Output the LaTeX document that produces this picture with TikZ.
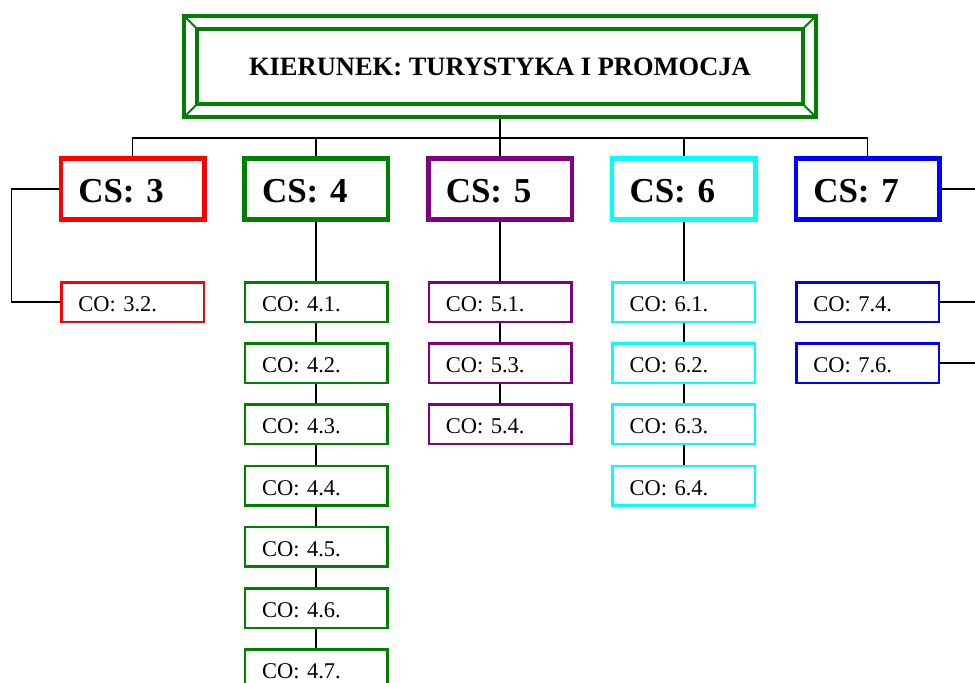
\documentclass[tikz,border=0pt]{standalone}
\usepackage{fontspec}
\setmainfont{Liberation Serif}
\usepackage{tikz}
\usetikzlibrary{trees}

\definecolor{cogreen}{RGB}{0,128,0}
\definecolor{copurple}{RGB}{128,0,128}
\definecolor{cocyan}{RGB}{0,255,255}

\begin{document}
\begin{tikzpicture}[
  x=1pt, y=1pt,
  line width=1.7pt,
  title/.style={draw=cogreen, double, double distance=9pt, line width=4pt,
    outer sep=8.5pt, minimum width=619pt, minimum height=88.5pt,
    font=\bfseries\fontsize{26.5}{30}\selectfont},
  cs/.style={rectangle, draw=#1, line width=4.5pt, inner xsep=17.5pt,
    text width=108.5pt, text height=27pt, text depth=0pt, minimum height=61pt,
    font=\bfseries\fontsize{35}{40}\selectfont}, % big boxes
  co/.style={rectangle, draw=#1, line width=2.5pt, inner xsep=17pt,
    text width=108.5pt, text height=19pt, text depth=0pt, minimum height=39.5pt,
    font=\fontsize{22.5}{26}\selectfont},
  level 1/.style={sibling distance=183.75pt, level distance=122.5pt,
    edge from parent path={(\tikzparentnode.south) -- ++(0,-18.5) -| (\tikzchildnode.north)}},
  level 2/.style={level distance=113pt,
    edge from parent path={(\tikzparentnode.south) -- (\tikzchildnode.north)}},
  level 3/.style={level distance=61.2pt}
]
  \useasboundingbox (0,0) rectangle (975,-683);
  \node[title] (kier) at (500,-66.5) {KIERUNEK: TURYSTYKA I PROMOCJA}
    child {node[cs=red] (cs3) {CS: 3}
      child[edge from parent path={(\tikzparentnode.west) -- ++(-47,0) |- (\tikzchildnode.west)}]
        {node[co=red] (co32) {CO: 3.2.}}
    }
    child {node[cs=cogreen] (cs4) {CS: 4}
      child {node[co=cogreen] (co41) {CO: 4.1.}
        child {node[co=cogreen] (co42) {CO: 4.2.}
          child {node[co=cogreen] (co43) {CO: 4.3.}
            child {node[co=cogreen] (co44) {CO: 4.4.}
              child {node[co=cogreen] (co45) {CO: 4.5.}
                child {node[co=cogreen] (co46) {CO: 4.6.}
                  child {node[co=cogreen] (co47) {CO: 4.7.}}
                }
              }
            }
          }
        }
      }
    }
    child {node[cs=copurple] (cs5) {CS: 5}
      child {node[co=copurple] (co51) {CO: 5.1.}
        child {node[co=copurple] (co53) {CO: 5.3.}
          child {node[co=copurple] (co54) {CO: 5.4.}}
        }
      }
    }
    child {node[cs=cocyan] (cs6) {CS: 6}
      child {node[co=cocyan] (co61) {CO: 6.1.}
        child {node[co=cocyan] (co62) {CO: 6.2.}
          child {node[co=cocyan] (co63) {CO: 6.3.}
            child {node[co=cocyan] (co64) {CO: 6.4.}}
          }
        }
      }
    }
    child {node[cs=blue] (cs7) {CS: 7}
      child[edge from parent/.style={draw=none}] {node[co=blue] (co74) {CO: 7.4.}
        child {node[co=blue] (co76) {CO: 7.6.}}
      }
    };

  % lines running off to the right
  \coordinate (rim) at (975,0);
  \draw (cs7.east) -- (cs7.east -| rim);
  \draw (co74.east) -- (co74.east -| rim);
  \draw (co76.east) -- (co76.east -| rim);

  \foreach \a/\sx/\sy in {north west/1/-1, north east/-1/-1, south west/1/1, south east/-1/1}
    \draw[cogreen, line width=2pt] ([shift={(2*\sx,2*\sy)}]kier.\a) -- ([shift={(15*\sx,15*\sy)}]kier.\a);
\end{tikzpicture}
\end{document}
